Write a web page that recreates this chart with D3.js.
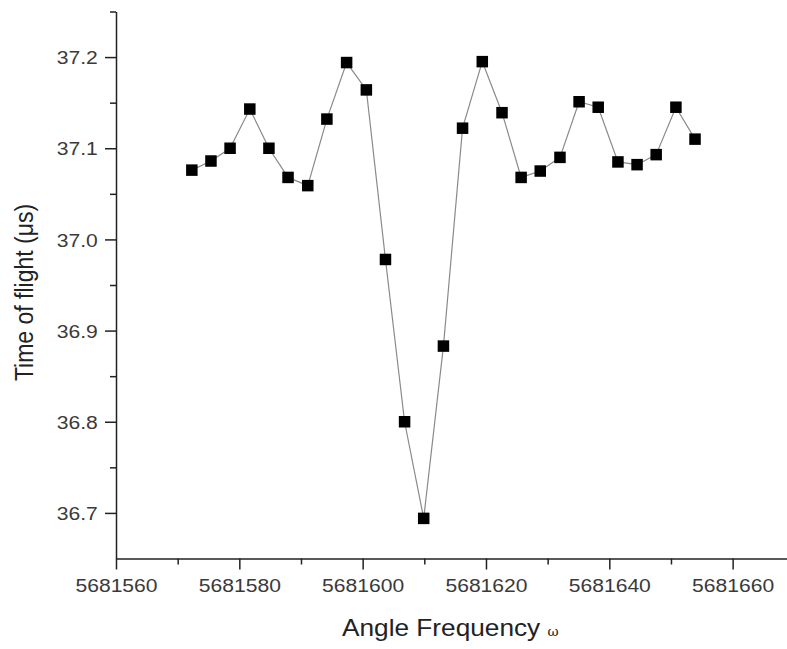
<!DOCTYPE html>
<html>
<head>
<meta charset="utf-8">
<script src="https://cdn.jsdelivr.net/npm/d3@7"></script>
<style>
  body { margin: 0; background: #fff; }
  svg { display: block; font-family: "Liberation Sans", Arial, sans-serif; }
</style>
</head>
<body>
<svg id="chart" width="787" height="649"></svg>
<script>
const svg = d3.select("#chart");

// data
const freq = [5681572.3, 5681575.4, 5681578.5, 5681581.7, 5681584.8, 5681587.9, 5681591.1,
              5681594.2, 5681597.4, 5681600.6, 5681603.7, 5681606.8, 5681609.9, 5681613.1,
              5681616.2, 5681619.4, 5681622.6, 5681625.7, 5681628.8, 5681632.0, 5681635.1,
              5681638.2, 5681641.4, 5681644.5, 5681647.6, 5681650.8, 5681653.9];
const tof = [37.076, 37.086, 37.100, 37.143, 37.100, 37.068, 37.059,
             37.132, 37.194, 37.164, 36.978, 36.800, 36.694, 36.883,
             37.122, 37.195, 37.139, 37.068, 37.075, 37.090, 37.151,
             37.145, 37.085, 37.082, 37.093, 37.145, 37.110];

const xTicks = [5681560, 5681580, 5681600, 5681620, 5681640, 5681660];
const xMinor = [5681570, 5681590, 5681610, 5681630, 5681650, 5681670];
const yTicks = [36.7, 36.8, 36.9, 37.0, 37.1, 37.2];
const yMinor = [36.75, 36.85, 36.95, 37.05, 37.15, 37.25];

const points = freq.map((f, i) => ({ f, t: tof[i] }));

const x = d3.scaleLinear().domain([5681560, 5681670]).range([116, 794.3]);
const y = d3.scaleLinear().domain([36.65, 37.25]).range([558.5, 11.5]);

const stretch = 1.14; // the picture is a bit wider than tall

// minor ticks
svg.append("g")
  .attr("transform", "translate(0,558.5)")
  .call(d3.axisBottom(x).tickValues(xMinor).tickSize(6).tickSizeOuter(0).tickFormat(""))
  .call(g => g.select(".domain").remove());

svg.append("g")
  .attr("transform", "translate(116,0)")
  .call(d3.axisLeft(y).tickValues(yMinor).tickSize(6).tickSizeOuter(0).tickFormat(""))
  .call(g => g.select(".domain").remove());

// major axes
const xAxis = svg.append("g")
  .attr("transform", "translate(0,558.5)")
  .call(d3.axisBottom(x).tickValues(xTicks).tickSize(11).tickSizeOuter(0).tickFormat(d3.format("d")));

xAxis.selectAll("text")
  .attr("y", 34)
  .attr("dy", 0)
  .attr("transform", `scale(${stretch},1)`)
  .style("font-size", "18.5px")
  .style("fill", "#3a3a3a");

const yAxis = svg.append("g")
  .attr("transform", "translate(116,0)")
  .call(d3.axisLeft(y).tickValues(yTicks).tickSize(11).tickSizeOuter(0).tickFormat(d3.format(".1f")));

yAxis.selectAll("text")
  .attr("x", -18.3 / stretch)
  .attr("dy", "0.36em")
  .attr("transform", `scale(${stretch},1)`)
  .style("font-size", "18.5px")
  .style("fill", "#3a3a3a");

svg.selectAll(".domain, .tick line")
  .attr("stroke", "#222")
  .attr("stroke-width", 1.5);

// connecting line
svg.append("path")
  .datum(points)
  .attr("fill", "none")
  .attr("stroke", "#8a8a8a")
  .attr("stroke-width", 1.2)
  .attr("d", d3.line().x(d => x(d.f)).y(d => y(d.t)));

// square markers
const size = 11.5;
svg.selectAll("rect.pt")
  .data(points)
  .join("rect")
  .attr("class", "pt")
  .attr("x", d => x(d.f) - size / 2)
  .attr("y", d => y(d.t) - size / 2)
  .attr("width", size)
  .attr("height", size)
  .attr("fill", "#000");

// axis titles
const xTitle = svg.append("text")
  .attr("transform", `translate(342,636) scale(${stretch},1)`)
  .style("font-size", "23px")
  .style("fill", "#222");
xTitle.append("tspan").text("Angle Frequency ");
xTitle.append("tspan").style("font-size", "12px").style("font-family", "DejaVu Serif, serif").text("ω");

svg.append("text")
  .attr("transform", `translate(33,292.5) scale(${stretch},1) rotate(-90)`)
  .attr("text-anchor", "middle")
  .style("font-size", "23px")
  .style("fill", "#222")
  .text("Time of flight (μs)");
</script>
</body>
</html>
